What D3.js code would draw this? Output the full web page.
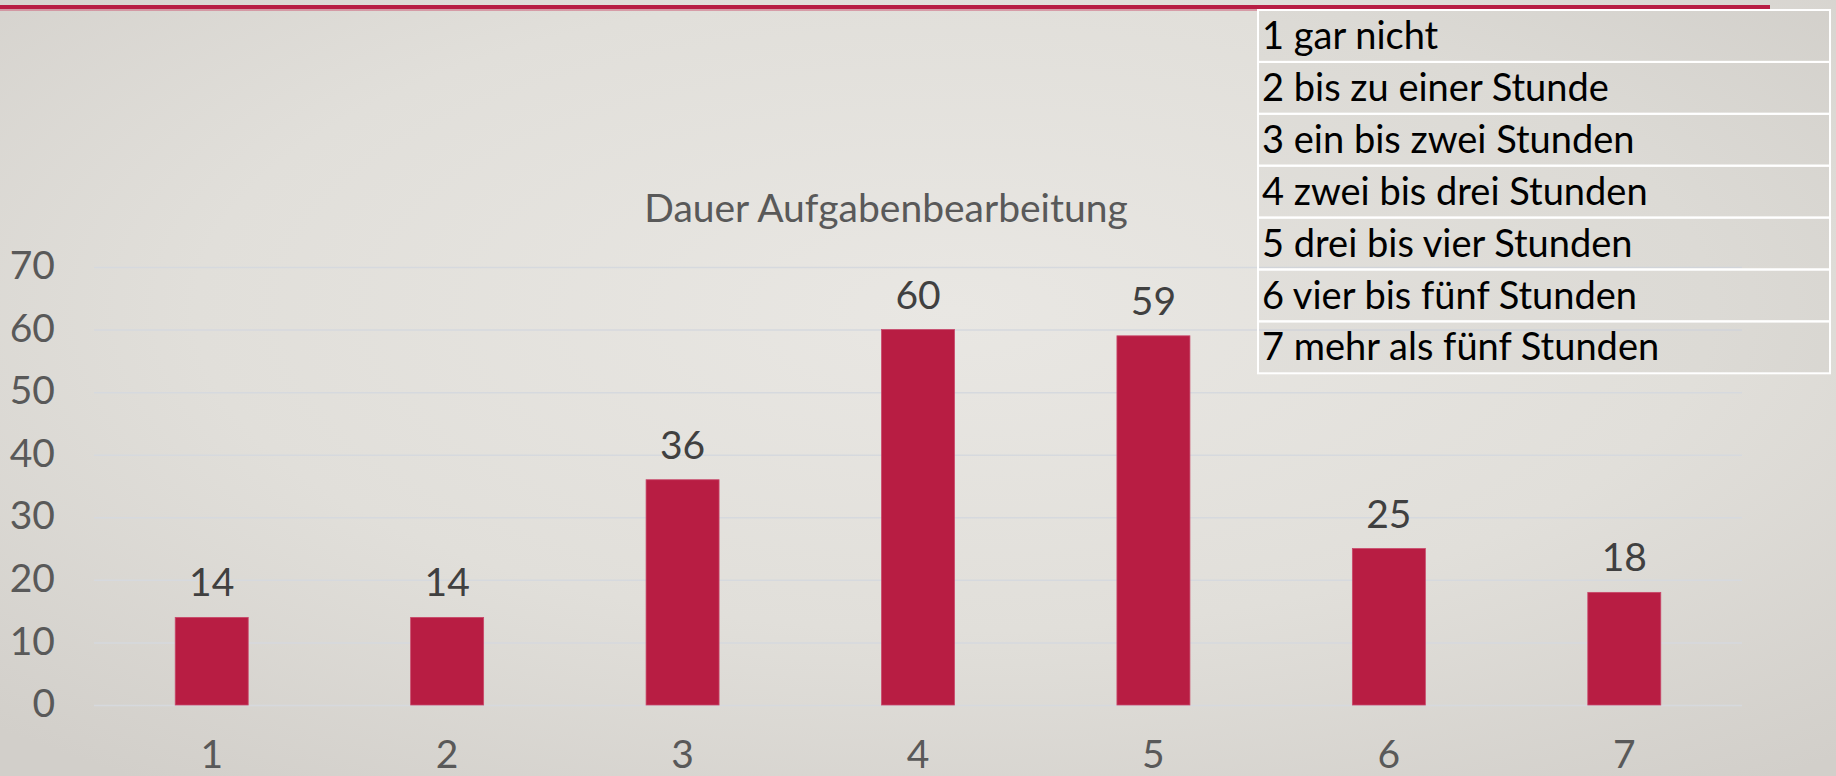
<!DOCTYPE html>
<html>
<head>
<meta charset="utf-8">
<script src="https://cdn.jsdelivr.net/npm/d3@7"></script>
<style>
  html, body { margin: 0; padding: 0; }
  body { width: 1836px; height: 776px; overflow: hidden; }
  svg { display: block; }
  text { font-family: Lato, "Open Sans", sans-serif; }
</style>
</head>
<body>
<div id="chart"></div>
<script>
// chart data
const categories = ['1', '2', '3', '4', '5', '6', '7'];
const values = [14, 14, 36, 60, 59, 25, 18];
const yTicks = [0, 10, 20, 30, 40, 50, 60, 70];
const legendLabels = [
  '1 gar nicht',
  '2 bis zu einer Stunde',
  '3 ein bis zwei Stunden',
  '4 zwei bis drei Stunden',
  '5 drei bis vier Stunden',
  '6 vier bis fünf Stunden',
  '7 mehr als fünf Stunden'
];
const chartTitle = 'Dauer Aufgabenbearbeitung';

const W = 1836, H = 776;
const margin = { top: 267, right: 94, bottom: 71, left: 94 };
const width = W - margin.left - margin.right;
const height = H - margin.top - margin.bottom;
const fontSize = 39;

const svg = d3.select('#chart')
  .append('svg')
  .attr('width', W)
  .attr('height', H);

// slide background
const defs = svg.append('defs');
const bg = defs.append('radialGradient')
  .attr('id', 'bg')
  .attr('cx', '52%').attr('cy', '40%').attr('r', '75%');
bg.append('stop').attr('offset', '0%').attr('stop-color', '#e9e7e3');
bg.append('stop').attr('offset', '55%').attr('stop-color', '#e1dfda');
bg.append('stop').attr('offset', '100%').attr('stop-color', '#d2cfca');
svg.append('rect')
  .attr('width', W).attr('height', H)
  .attr('fill', 'url(#bg)');

// red rule at the top
svg.append('rect')
  .attr('x', 0).attr('y', 5)
  .attr('width', 1770).attr('height', 4)
  .attr('fill', '#b81e44');
svg.append('rect')
  .attr('x', 0).attr('y', 9)
  .attr('width', 1770).attr('height', 2)
  .attr('fill', '#cf6f86')
  .attr('opacity', 0.6);

const g = svg.append('g')
  .attr('transform', 'translate(' + margin.left + ',' + margin.top + ')');

const x = d3.scaleBand()
  .domain(categories)
  .range([0, width])
  .paddingInner(0.69)
  .paddingOuter(0.345);

const y = d3.scaleLinear()
  .domain([0, 70])
  .range([height, 0]);

// gridlines
g.append('g')
  .attr('class', 'grid')
  .call(d3.axisLeft(y).tickValues(yTicks).tickSize(-width).tickFormat(''))
  .call(s => s.select('.domain').remove())
  .call(s => s.selectAll('line')
    .attr('stroke', '#d6d9de')
    .attr('stroke-width', 1.5));

// y axis labels
g.append('g')
  .attr('transform', 'translate(' + (55 - margin.left) + ',0)')
  .call(d3.axisLeft(y).tickValues(yTicks).tickSize(0).tickPadding(0))
  .call(s => s.select('.domain').remove())
  .call(s => s.selectAll('text')
    .attr('font-family', 'Lato, sans-serif')
    .attr('font-size', fontSize)
    .attr('fill', '#595959')
    .attr('dy', '0.3em'));

// x axis labels
g.append('g')
  .attr('transform', 'translate(0,' + height + ')')
  .call(d3.axisBottom(x).tickSize(0).tickPadding(35))
  .call(s => s.select('.domain').remove())
  .call(s => s.selectAll('text')
    .attr('font-family', 'Lato, sans-serif')
    .attr('font-size', fontSize)
    .attr('fill', '#595959'));

// bars
g.selectAll('rect.bar')
  .data(values)
  .enter()
  .append('rect')
  .attr('class', 'bar')
  .attr('x', (d, i) => x(categories[i]))
  .attr('y', d => y(d))
  .attr('width', x.bandwidth())
  .attr('height', d => height - y(d))
  .attr('fill', '#b81d43')
  .attr('stroke', '#c9486a')
  .attr('stroke-width', 0.8);

// value labels
g.selectAll('text.value')
  .data(values)
  .enter()
  .append('text')
  .attr('class', 'value')
  .attr('x', (d, i) => x(categories[i]) + x.bandwidth() / 2)
  .attr('y', d => y(d) - 21)
  .attr('text-anchor', 'middle')
  .attr('font-size', fontSize)
  .attr('fill', '#404040')
  .text(d => d);

// title
svg.append('text')
  .attr('x', 886)
  .attr('y', 222)
  .attr('text-anchor', 'middle')
  .attr('font-size', fontSize)
  .attr('fill', '#595959')
  .text(chartTitle);

// legend table
const legendX = 1258, legendY = 10, legendW = 572, rowH = 51.9;
const legend = svg.append('g')
  .attr('transform', 'translate(' + legendX + ',' + legendY + ')');

legend.selectAll('rect')
  .data(legendLabels)
  .enter()
  .append('rect')
  .attr('x', 0)
  .attr('y', (d, i) => i * rowH)
  .attr('width', legendW)
  .attr('height', rowH)
  .attr('fill', 'rgba(0,0,0,0.02)')
  .attr('stroke', '#ffffff')
  .attr('stroke-width', 2);

legend.selectAll('text')
  .data(legendLabels)
  .enter()
  .append('text')
  .attr('x', 4)
  .attr('y', (d, i) => i * rowH + 39)
  .attr('font-size', 38)
  .attr('fill', '#000000')
  .text(d => d);
</script>
</body>
</html>
